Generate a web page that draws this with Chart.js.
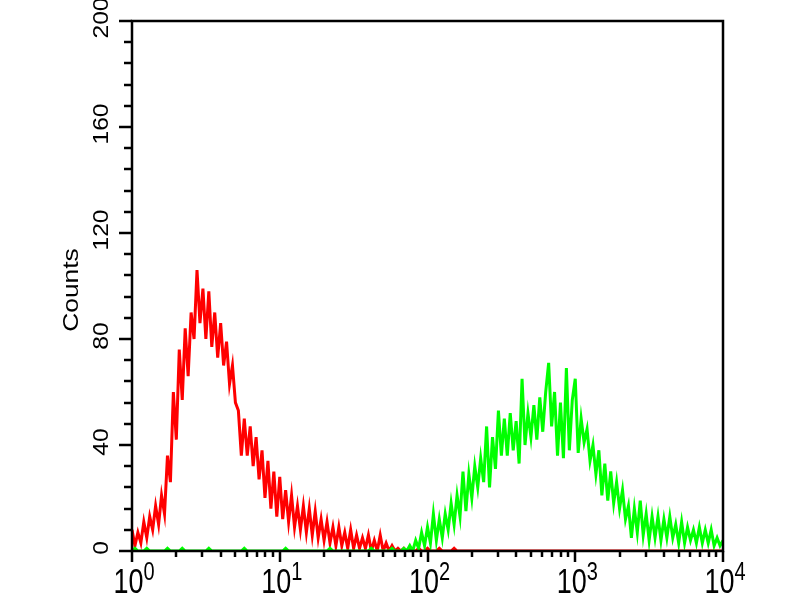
<!DOCTYPE html>
<html><head><meta charset="utf-8">
<script src="https://cdn.jsdelivr.net/npm/chart.js@4/dist/chart.umd.min.js"></script>
<style>html,body{margin:0;padding:0;background:#fff}</style>
</head><body>
<canvas id="c" width="800" height="600"></canvas>
<script>
// Fluorescence channels (log axis, 10^0 .. 10^4)
const channels = [
1,1.047,1.096,1.148,1.202,1.259,1.318,1.380,1.445,1.514,1.585,1.660,1.738,1.820,1.905,1.995,2.089,2.188,2.291,2.399,2.512,2.630,2.754,2.884,3.020,3.162,3.311,3.467,3.631,3.802,3.981,4.169,4.365,4.571,4.786,5.012,5.248,5.495,5.754,6.026,6.310,6.607,6.918,7.244,7.586,7.943,8.318,8.710,9.120,9.550,
10,10.47,10.96,11.48,12.02,12.59,13.18,13.80,14.45,15.14,15.85,16.60,17.38,18.20,19.05,19.95,20.89,21.88,22.91,23.99,25.12,26.30,27.54,28.84,30.20,31.62,33.11,34.67,36.31,38.02,39.81,41.69,43.65,45.71,47.86,50.12,52.48,54.95,57.54,60.26,63.10,66.07,69.18,72.44,75.86,79.43,83.18,87.10,91.20,95.50,
100,104.7,109.6,114.8,120.2,125.9,131.8,138.0,144.5,151.4,158.5,166.0,173.8,182.0,190.5,199.5,208.9,218.8,229.1,239.9,251.2,263.0,275.4,288.4,302.0,316.2,331.1,346.7,363.1,380.2,398.1,416.9,436.5,457.1,478.6,501.2,524.8,549.5,575.4,602.6,631.0,660.7,691.8,724.4,758.6,794.3,831.8,871.0,912.0,955.0,
1000,1047,1096,1148,1202,1259,1318,1380,1445,1514,1585,1660,1738,1820,1905,1995,2089,2188,2291,2399,2512,2630,2754,2884,3020,3162,3311,3467,3631,3802,3981,4169,4365,4571,4786,5012,5248,5495,5754,6026,6310,6607,6918,7244,7586,7943,8318,8710,9120,9550,10000
];
// Red histogram (control)
const redCounts = [
8,2,7,3,11,5,13,8,17,10,
21,14,36,26,60,42,76,57,84,66,
90,80,106,86,99,80,98,77,90,73,
86,70,79,63,70,56,53,36,50,36,
47,32,43,27,38,20,34,16,30,13,
28,12,23,11,21,9,17,8,17,7,
16,6,15,5,12,4,11,3,9,2,
9,2,7,1,8,1,6,1,5,1,
6,0,4,0,6,0,3,0,2,0,
1,0,1,0,1,0,0,1,0,0,
1,0,0,0,1,0,0,0,0,1,
0,0,0,0,0,0,0,0,0,0,
0,0,0,0,0,0,0,0,0,0,
0,0,0,0,0,0,0,0,0,0,
0,0,0,0,0,0,0,0,0,0,
0,0,0,0,0,0,0,0,0,0,
0,0,0,0,0,0,0,0,0,0,
0,0,0,0,0,0,0,0,0,0,
0,0,0,0,0,0,0,0,0,0,
0,0,0,0,0,0,0,0,0,0,
0
];
// Green histogram (stained)
const greenCounts = [
0,1,0,0,0,1,0,0,0,0,
0,0,1,0,0,0,0,1,0,0,
0,0,0,0,0,0,1,0,0,0,
0,0,0,0,0,0,0,0,1,0,
0,0,0,0,0,0,0,0,0,0,
0,0,1,0,0,0,0,0,0,0,
0,0,0,0,0,0,0,1,0,0,
0,0,0,0,0,0,0,0,0,0,
0,1,0,0,0,0,0,0,1,0,
0,0,1,0,2,0,4,1,7,2,
9,3,14,4,12,5,14,8,18,10,
21,13,30,15,29,20,32,24,35,26,
47,24,43,31,53,36,50,36,52,38,
49,33,65,40,52,43,55,42,58,45,
60,71,47,60,36,56,35,69,38,57,
65,37,50,41,46,34,40,29,38,21,
33,19,30,18,26,16,23,12,17,5,
16,7,19,6,14,4,13,5,13,4,
12,5,13,5,10,3,11,3,9,4,
8,3,9,3,8,3,8,2,5,2,
4
];
const xTickExponents = [0,1,2,3,4];
const yTickLabels = [0,40,80,120,160,200];
const yMinorStep = 8;
const yAxisTitle = 'Counts';

const toPoints = (ys) => channels.map((x, i) => ({x: x, y: ys[i]}));

const axesPlugin = {
  id: 'facsAxes',
  afterDraw(chart) {
    const ctx = chart.ctx;
    const a = chart.chartArea;
    const xs = chart.scales.x, ys = chart.scales.y;
    ctx.save();
    ctx.strokeStyle = '#000';
    ctx.fillStyle = '#000';
    // box
    ctx.lineWidth = 2.5;
    ctx.strokeRect(a.left, a.top, a.right - a.left, a.bottom - a.top);
    // x ticks
    ctx.lineWidth = 2.5;
    for (let d = 0; d < xTickExponents.length; d++) {
      const base = Math.pow(10, xTickExponents[d]);
      const last = d === xTickExponents.length - 1;
      for (let m = 1; m <= (last ? 1 : 9); m++) {
        const px = Math.round(xs.getPixelForValue(m * base));
        const len = m === 1 ? 11 : 6;
        ctx.beginPath();
        ctx.moveTo(px, a.bottom);
        ctx.lineTo(px, a.bottom + len);
        ctx.stroke();
      }
    }
    // y ticks
    for (let v = 0; v <= 200; v += yMinorStep) {
      const py = Math.round(ys.getPixelForValue(v));
      const len = (v % 40 === 0) ? 13 : 8;
      ctx.beginPath();
      ctx.moveTo(a.left, py);
      ctx.lineTo(a.left - len, py);
      ctx.stroke();
    }
    // x labels "10^n"
    ctx.textBaseline = 'alphabetic';
    ctx.textAlign = 'left';
    const fBase = '27px "Liberation Sans", Arial, sans-serif';
    const fExp = '20px "Liberation Sans", Arial, sans-serif';
    xTickExponents.forEach(e => {
      const px = xs.getPixelForValue(Math.pow(10, e));
      ctx.font = fBase;
      const wb = ctx.measureText('10').width;
      ctx.font = fExp;
      const we = ctx.measureText(String(e)).width;
      const x0 = px - (wb + we) / 2 + 2;
      ctx.save();
      ctx.translate(x0, 593);
      ctx.scale(1, 1.3);
      ctx.font = fBase;
      ctx.fillText('10', 0, 0);
      ctx.restore();
      ctx.save();
      ctx.translate(x0 + wb, 580);
      ctx.scale(1, 1.3);
      ctx.font = fExp;
      ctx.fillText(String(e), 0, 0);
      ctx.restore();
    });
    // y labels rotated
    ctx.textAlign = 'center';
    yTickLabels.forEach(v => {
      const py = ys.getPixelForValue(v) - 3;
      ctx.save();
      ctx.translate(108, py);
      ctx.rotate(-Math.PI / 2);
      ctx.scale(1.12, 1);
      ctx.font = '22px "Liberation Sans", Arial, sans-serif';
      ctx.fillText(String(v), 0, 0);
      ctx.restore();
    });
    // axis title
    ctx.save();
    ctx.translate(78, 290);
    ctx.rotate(-Math.PI / 2);
    ctx.scale(1.2, 1);
    ctx.font = '22px "Liberation Sans", Arial, sans-serif';
    ctx.fillText(yAxisTitle, 0, 0);
    ctx.restore();
    ctx.restore();
  }
};

new Chart(document.getElementById('c'), {
  type: 'line',
  data: {
    datasets: [
      {label: 'Green', data: toPoints(greenCounts), borderColor: '#00ff00', borderWidth: 3, pointRadius: 0, tension: 0, fill: false},
      {label: 'Red', data: toPoints(redCounts), borderColor: '#ff0000', borderWidth: 3, pointRadius: 0, tension: 0, fill: false}
    ]
  },
  options: {
    responsive: false,
    animation: false,
    devicePixelRatio: 1,
    layout: {padding: {left: 132, top: 21, right: 77, bottom: 49}},
    plugins: {legend: {display: false}, tooltip: {enabled: false}},
    scales: {
      x: {type: 'logarithmic', min: 1, max: 10000, display: false},
      y: {type: 'linear', min: 0, max: 200, display: false}
    }
  },
  plugins: [axesPlugin]
});
</script>
</body></html>
